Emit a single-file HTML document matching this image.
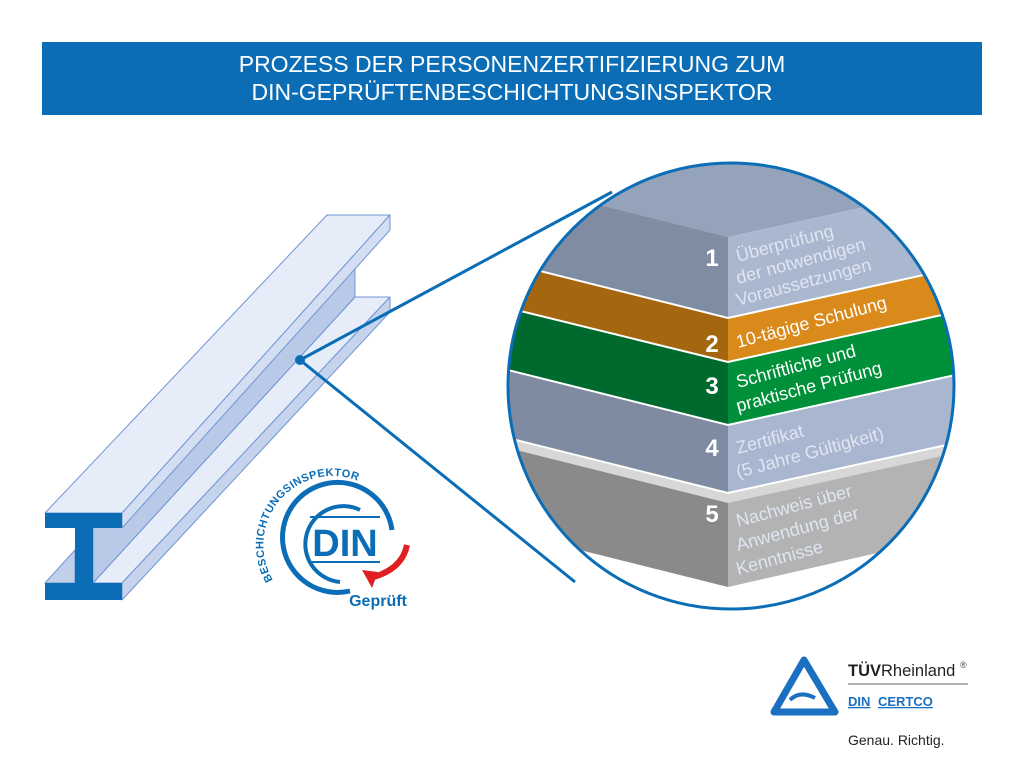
<!DOCTYPE html>
<html><head><meta charset="utf-8"><style>
html,body{margin:0;padding:0;background:#fff;}
svg{display:block;}
text{font-family:"Liberation Sans",sans-serif;}
</style></head><body>
<svg width="1024" height="775" viewBox="0 0 1024 775" xmlns="http://www.w3.org/2000/svg">
<rect x="42" y="42" width="940" height="73" fill="#0a6db6"/>
<text x="512" y="72" font-size="23" fill="#fff" text-anchor="middle">PROZESS DER PERSONENZERTIFIZIERUNG ZUM</text>
<text x="512" y="100" font-size="23" fill="#fff" text-anchor="middle">DIN-GEPRÜFTENBESCHICHTUNGSINSPEKTOR</text>

<!-- beam -->
<g stroke="#6f95d3" stroke-width="1" stroke-linejoin="round">
  <polygon points="45,583 122,583 390,297 355,297 93,583" fill="#e6ecf8"/>
  <polygon points="122,583 122,600 390,312 390,297" fill="#c6d3ec"/>
  <polygon points="93,528 355,267 355,297 93,583" fill="#b9cae8"/>
  <polygon points="45,583 75,583 75,550" fill="#c0cfea"/>
  <polygon points="45,513 122,513 390,215 327,215" fill="#e6ecf8"/>
  <polygon points="122,513 122,528 390,230 390,215" fill="#d4def2"/>
</g>
<path d="M45,513 H122 V528 H93 V583 H122 V600 H45 V583 H75 V528 H45 Z" fill="#0a6db6"/>

<line x1="300" y1="360" x2="612" y2="192" stroke="#0a6db6" stroke-width="3"/>
<line x1="300" y1="360" x2="575" y2="582" stroke="#0a6db6" stroke-width="3"/>
<circle cx="300" cy="360" r="5" fill="#0a6db6"/>

<defs><clipPath id="c"><circle cx="731" cy="386" r="223"/></clipPath></defs>
<circle cx="731" cy="386" r="223" fill="#fff"/>
<g clip-path="url(#c)">
  <polygon points="500,436 728,493 960,442 960,534 728,587 500,530" fill="#d7d7d7"/>
  <polygon points="500,446 728,503 728,587 500,530" fill="#8a8a8a"/>
  <polygon points="728,503 960,452 960,534 728,587" fill="#b3b3b3"/>
  <polygon points="500,358 728,415 960,364 960,374 728,425" fill="#cbd3e2"/>
  <polygon points="500,368 728,425 728,493 500,436" fill="#7e8ba1"/>
  <polygon points="728,425 960,374 960,442 728,493" fill="#a8b6d0"/>
  <polygon points="500,296 728,352 960,301 960,311 728,362 500,306" fill="#3a9a5a"/>
  <polygon points="500,306 728,362 728,425 500,368" fill="#006a2e"/>
  <polygon points="728,362 960,311 960,374 728,425" fill="#00903a"/>
  <polygon points="500,251 728,308 960,257 960,267 728,318 500,261" fill="#c57a18"/>
  <polygon points="500,261 728,318 728,362 500,306" fill="#a4660f"/>
  <polygon points="728,318 960,267 960,311 728,362" fill="#d98a1a"/>
  <polygon points="500,150 960,150 960,186 728,237 500,180" fill="#94a3ba"/>
  <polygon points="500,180 728,237 728,318 500,261" fill="#7f8ca2"/>
  <polygon points="728,237 960,186 960,267 728,318" fill="#a9b7cf"/>
  <g stroke="#fff" stroke-width="2" fill="none">
    <polyline points="500,261 728,318 960,267"/>
    <polyline points="500,306 728,362 960,311"/>
    <polyline points="500,368 728,425 960,374"/>
    <polyline points="500,436 728,493 960,442"/>
  </g>
</g>
<circle cx="731" cy="386" r="223" fill="none" stroke="#0a6db6" stroke-width="3"/>

<g font-weight="bold" font-size="24" fill="#fff" text-anchor="middle">
  <text x="712" y="266">1</text>
  <text x="712" y="352">2</text>
  <text x="712" y="394">3</text>
  <text x="712" y="456">4</text>
  <text x="712" y="522">5</text>
</g>
<g font-size="18" fill="#dfe6f1">
  <text transform="translate(738,262) rotate(-15)">Überprüfung</text>
  <text transform="translate(738,284) rotate(-15)">der notwendigen</text>
  <text transform="translate(738,306) rotate(-15)">Voraussetzungen</text>
  <text transform="translate(738,348) rotate(-15)" fill="#fff">10-tägige Schulung</text>
  <text transform="translate(738,388) rotate(-15)" fill="#fff">Schriftliche und</text>
  <text transform="translate(738,412) rotate(-15)" fill="#fff">praktische Prüfung</text>
  <text transform="translate(738,454) rotate(-15)">Zertifikat</text>
  <text transform="translate(738,478) rotate(-15)">(5 Jahre Gültigkeit)</text>
  <text transform="translate(738,527) rotate(-15)">Nachweis über</text>
  <text transform="translate(738,551) rotate(-15)">Anwendung der</text>
  <text transform="translate(738,575) rotate(-15)">Kenntnisse</text>
</g>

<g>
  <defs><path id="arc" d="M273,580 A62,62 0 1,1 392,510"/></defs>
  <text font-size="11" font-weight="bold" fill="#0a6db6" letter-spacing="0.5"><textPath href="#arc">BESCHICHTUNGSINSPEKTOR</textPath></text>
  <path d="M392,530 A55,55 0 1,0 350,591" fill="none" stroke="#0a6db6" stroke-width="5"/>
  <path d="M360,510 A38,38 0 1,0 340,582" fill="none" stroke="#0a6db6" stroke-width="4"/>
  <line x1="310" y1="517" x2="380" y2="517" stroke="#0a6db6" stroke-width="2"/>
  <line x1="310" y1="562" x2="380" y2="562" stroke="#0a6db6" stroke-width="2"/>
  <text x="345" y="556" font-size="38" font-weight="bold" fill="#0a6db6" text-anchor="middle">DIN</text>
  <path d="M407,545 Q402,570 370,578" fill="none" stroke="#e02020" stroke-width="6"/>
  <polygon points="362,570 372,588 378,572" fill="#e02020"/>
  <text x="378" y="606" font-size="16" font-weight="bold" fill="#0a6db6" text-anchor="middle">Geprüft</text>
</g>

<g>
  <polygon points="804,660 835,712 774,712" fill="none" stroke="#1b6fc0" stroke-width="7" stroke-linejoin="round"/>
  <path d="M790,700 Q800,690 815,698" fill="none" stroke="#1b6fc0" stroke-width="4"/>
  <text x="848" y="676" font-size="16.5" fill="#222"><tspan font-weight="bold">TÜV</tspan>Rheinland</text>
  <text x="960" y="668" font-size="9" fill="#444">®</text>
  <line x1="848" y1="684" x2="968" y2="684" stroke="#666" stroke-width="1"/>
  <text x="848" y="706" font-size="13" font-weight="bold" fill="#1b6fc0" text-decoration="underline">DIN</text>
  <text x="878" y="706" font-size="13" font-weight="bold" fill="#1b6fc0" text-decoration="underline">CERTCO</text>
  <text x="848" y="745" font-size="14" fill="#222">Genau. Richtig.</text>
</g>
</svg>
</body></html>
